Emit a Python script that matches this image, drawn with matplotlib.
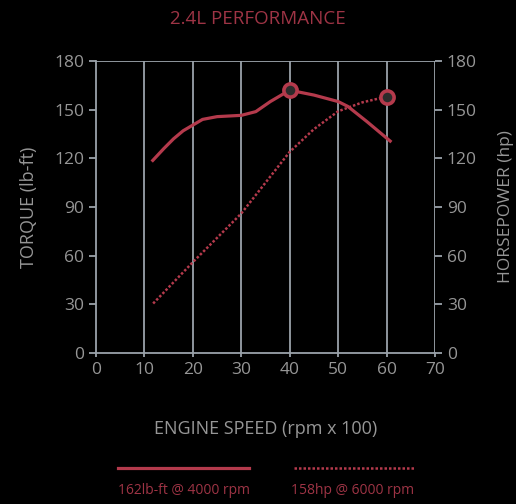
import matplotlib
matplotlib.use('Agg')
import matplotlib.pyplot as plt
from matplotlib.lines import Line2D

plt.rcParams['font.family'] = ['Open Sans', 'DejaVu Sans']

torque_rpm = [11.5, 14, 16, 18, 20, 22, 25, 30, 33, 36, 40, 45, 50, 52, 56, 61]
torque = [118, 126, 132, 137, 140.5, 144, 145.7, 146.5, 148.8, 155, 162, 159, 155, 152, 142.5, 130]
hp_rpm = [11.8, 20, 30, 40, 45, 50, 55, 60]
hp = [30.5, 56, 86, 124, 138, 149, 154.5, 158]
peak_torque = (40, 162)
peak_hp = (60, 158)
x_ticks = [0, 10, 20, 30, 40, 50, 60, 70]
y_ticks = [0, 30, 60, 90, 120, 150, 180]

red = '#b43a4c'
dark_red = '#9e3445'
grey = '#9aa2aa'
label_grey = '#969696'

fig = plt.figure(figsize=(5.16, 5.04), dpi=100)
fig.set_facecolor('black')
ax = fig.add_axes([96 / 516, 1 - 353 / 504, 339 / 516, 292 / 504])
ax.set_facecolor('black')

ax.set_xlim(0, 70)
ax.set_ylim(0, 180)
ax.set_xticks(x_ticks)
ax.set_yticks(y_ticks)
for x in x_ticks[1:]:
    ax.axvline(x, color=grey, lw=1.3, zorder=1)
ax.axhline(180, color=grey, lw=1.3, zorder=1)
for side in ['top', 'right']:
    ax.spines[side].set_visible(False)
for side in ['left', 'bottom']:
    ax.spines[side].set_color(grey)
    ax.spines[side].set_linewidth(1.3)
ax.tick_params(colors=grey, labelcolor=label_grey, labelsize=12.5, width=1.3)
ax.tick_params(axis='y', length=5)
ax.tick_params(axis='x', length=3)

ax.plot(torque_rpm, torque, color=red, lw=2.3, zorder=3, solid_capstyle='butt')
ax.plot(hp_rpm, hp, color=red, lw=1.8, linestyle=(0, (1, 0.8)), zorder=3)
ax.plot(*peak_torque, 'o', ms=9.5, mfc='#2b2b2b', mec=red, mew=2.6, zorder=4)
ax.plot(*peak_hp, 'o', ms=9.5, mfc='#2b2b2b', mec=red, mew=2.6, zorder=4)

ax2 = ax.twinx()
ax2.set_ylim(0, 180)
ax2.set_yticks(y_ticks)
for side in ['top', 'left', 'bottom', 'right']:
    ax2.spines[side].set_visible(False)
ax2.tick_params(colors=grey, labelcolor=label_grey, labelsize=12.5, width=1.3, length=5)

ax.set_xlabel('ENGINE SPEED (rpm x 100)', color=label_grey, fontsize=13, labelpad=30)
ax.set_ylabel('TORQUE (lb-ft)', color=label_grey, fontsize=13, labelpad=12)
ax2.set_ylabel('HORSEPOWER (hp)', color=label_grey, fontsize=12.5, labelpad=15)

fig.text(0.5, 1 - 19 / 504, '2.4L PERFORMANCE', color=dark_red, fontsize=13.5,
         ha='center', va='center')

fig.add_artist(Line2D([118 / 516, 249 / 516], [1 - 468 / 504] * 2,
                      color=red, lw=2.3, transform=fig.transFigure))
fig.add_artist(Line2D([294 / 516, 414 / 516], [1 - 468 / 504] * 2,
                      color=red, lw=1.8, linestyle=(0, (1, 0.8)), transform=fig.transFigure))
fig.text(184 / 516, 1 - 491 / 504, '162lb-ft @ 4000 rpm', color=dark_red, fontsize=10,
         ha='center', va='center')
fig.text(353 / 516, 1 - 491 / 504, '158hp @ 6000 rpm', color=dark_red, fontsize=10,
         ha='center', va='center')

fig.savefig('out.png', dpi=100, facecolor=fig.get_facecolor())
